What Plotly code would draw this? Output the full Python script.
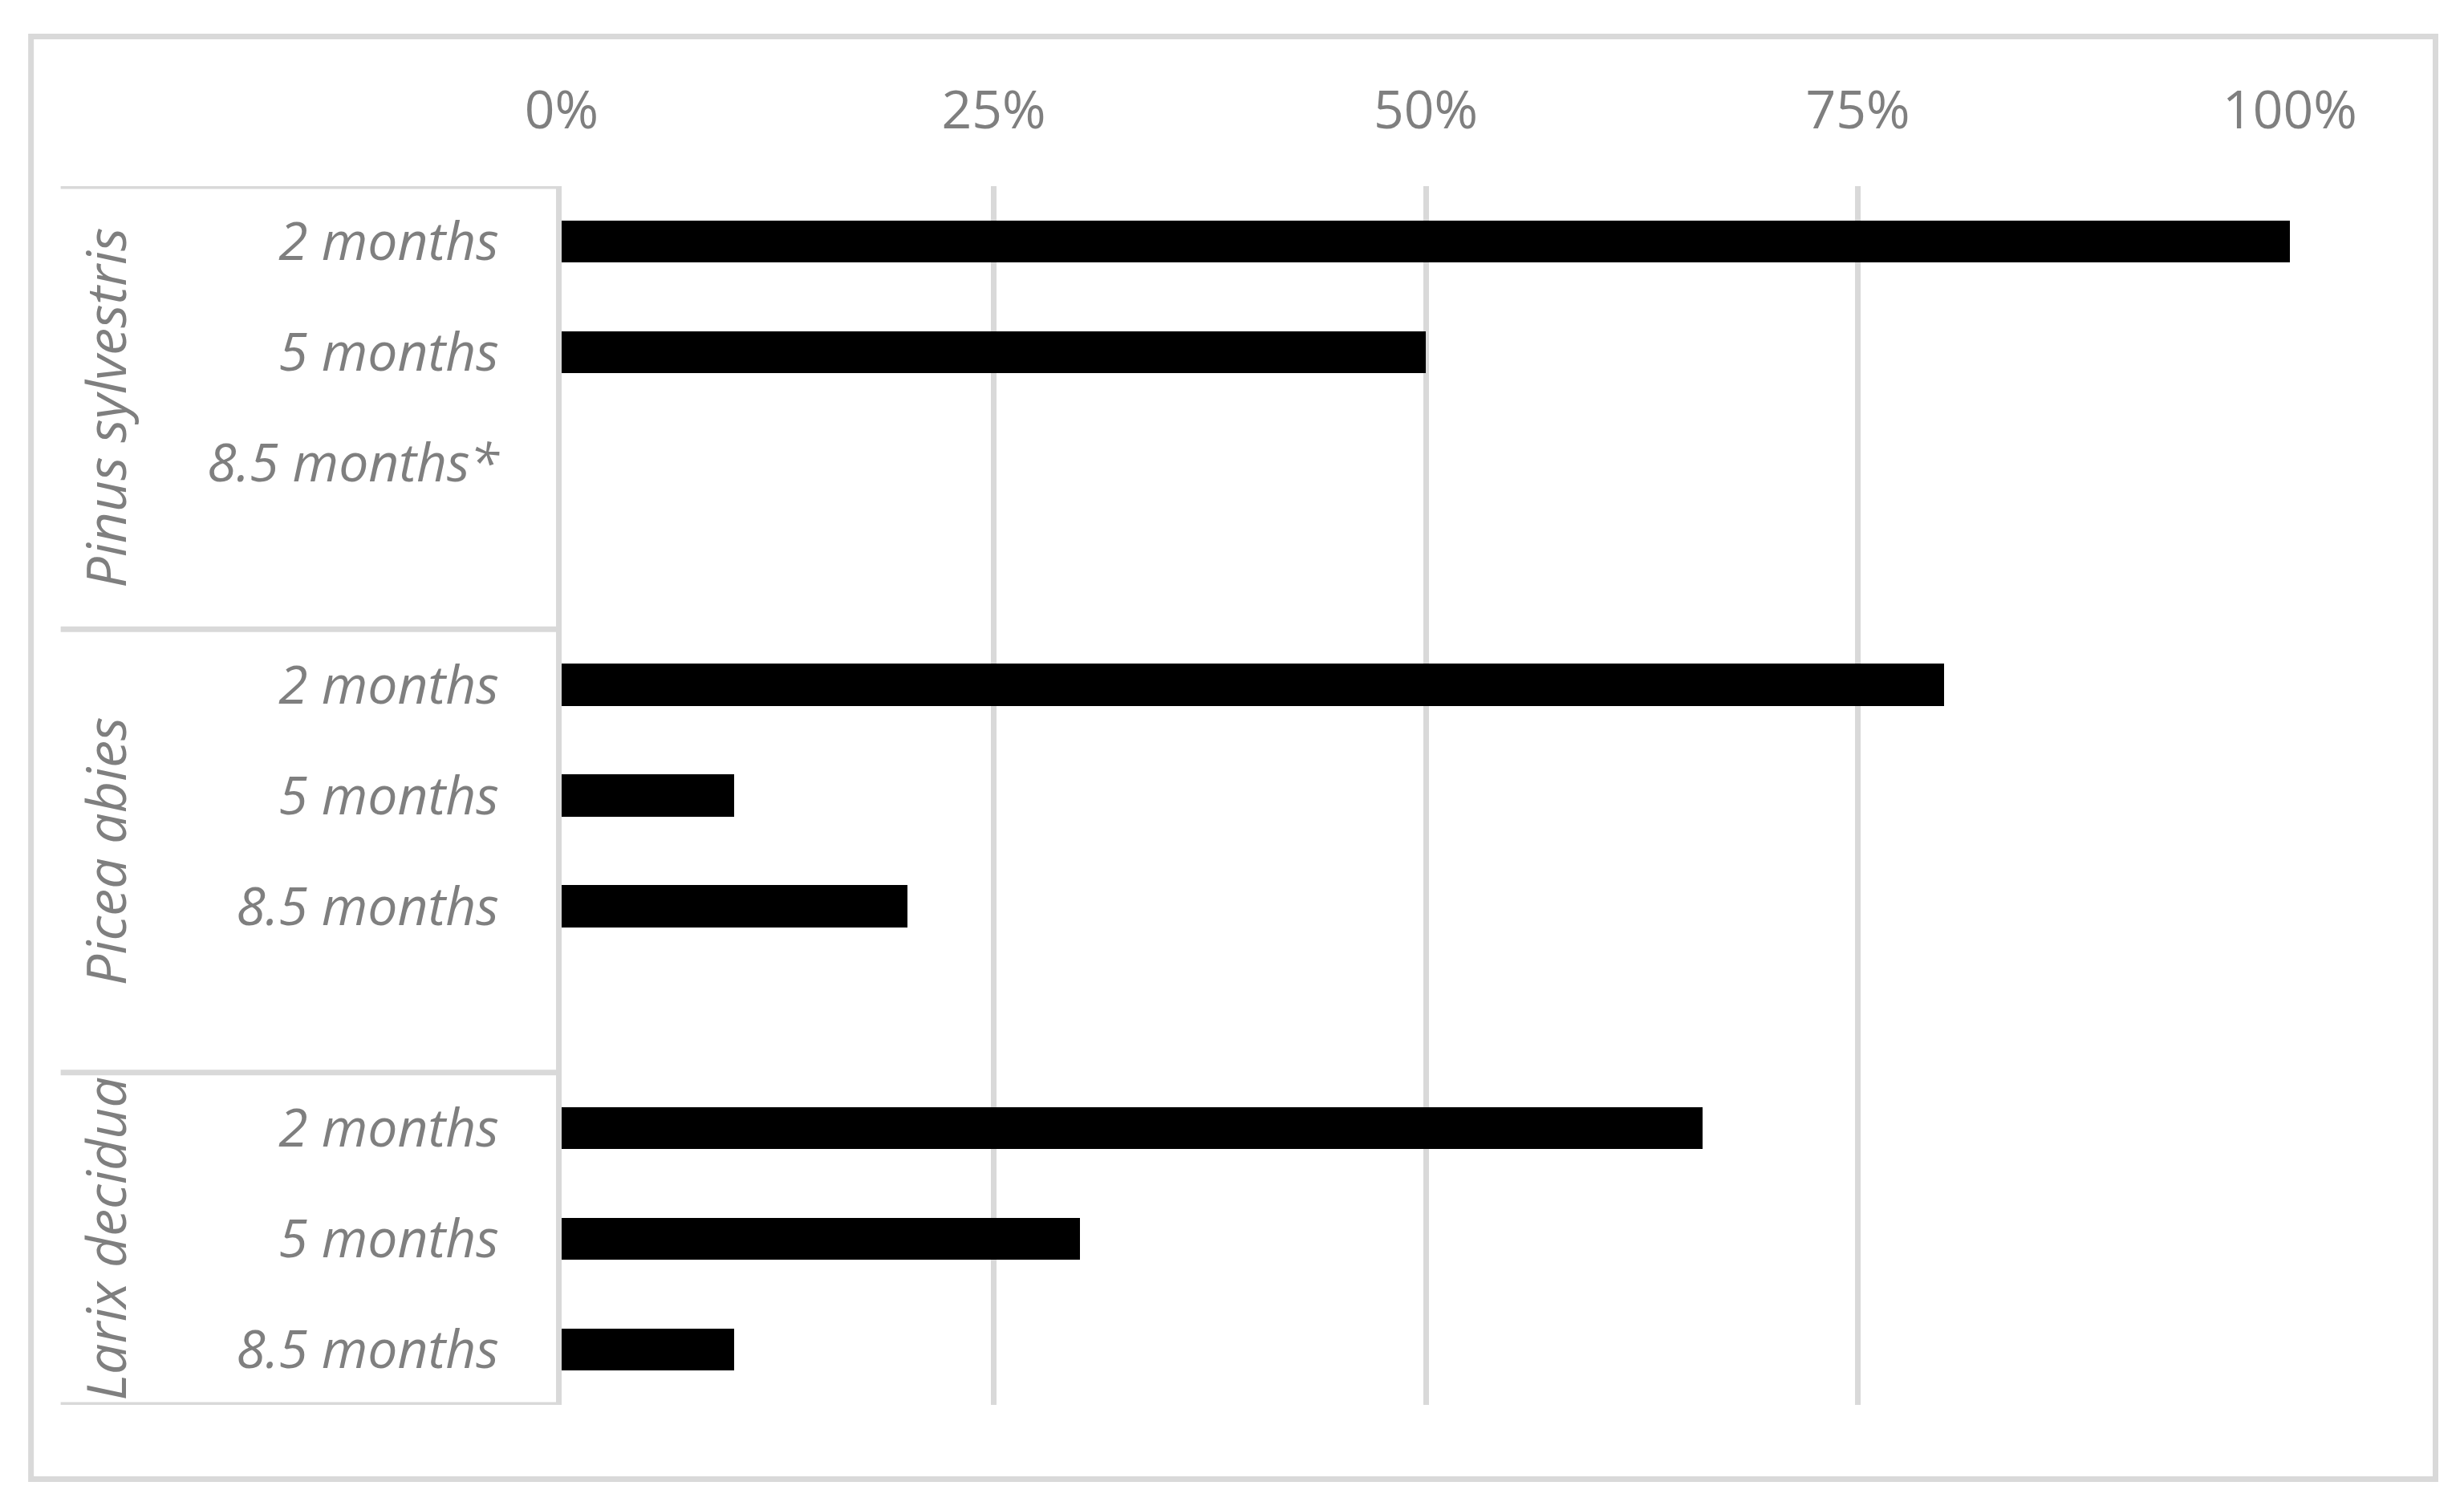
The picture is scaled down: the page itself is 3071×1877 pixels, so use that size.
import plotly.graph_objects as go

# ---- data ----
species = ["Pinus sylvestris", "Picea abies", "Larix decidua"]
period_labels = [
    ["2 months", "5 months", "8.5 months*"],
    ["2 months", "5 months", "8.5 months"],
    ["2 months", "5 months", "8.5 months"],
]
pinus_values = [100, 50, 0]
picea_values = [80, 10, 20]
larix_values = [66, 30, 10]
group_values = [pinus_values, picea_values, larix_values]
x_ticks = [0, 25, 50, 75, 100]
x_tick_labels = ["0%", "25%", "50%", "75%", "100%"]

# ---- layout geometry (page pixels; the page body has an 8px margin) ----
OFF = 8
W, H = 3071 - 2 * OFF, 1877 - 2 * OFF
L = 699.5 - OFF
R = W - (2854 - OFF)
T = 232 - OFF
B = H - (1751 - OFF)
PW = W - L - R
PH = H - T - B

def px_x(p):
    return (p - OFF - L) / PW

def px_y(p):
    return 1 - (p - OFF - T) / PH

GRID = "#d9d9d9"
TXT = "#7f7f7f"
FONT = "Open Sans"
FS = 66

# row positions: each group occupies its rows plus one blank row (except last)
rows_y, rows_txt, rows_val = [], [], []
group_bounds = []
pos = 0
for gi, (labels, vals) in enumerate(zip(period_labels, group_values)):
    start = pos
    for lab, v in zip(labels, vals):
        rows_y.append(pos)
        rows_txt.append(lab)
        rows_val.append(v)
        pos += 1
    end = pos - 1
    if gi < len(species) - 1:
        pos += 1  # blank spacer row
        group_bounds.append((start - 0.5, end + 1.5))
    else:
        group_bounds.append((start - 0.5, end + 0.5))
n_rows = pos

fig = go.Figure()
fig.add_trace(go.Bar(
    x=rows_val, y=rows_y, orientation="h", width=0.38,
    marker=dict(color="#000000", line=dict(width=0)),
    showlegend=False, hoverinfo="skip",
))

shapes = []
# outer chart border
shapes.append(dict(type="rect", xref="paper", yref="paper",
                   x0=px_x(38), x1=px_x(3035.5), y0=px_y(45.5), y1=px_y(1843.5),
                   line=dict(color=GRID, width=7), layer="below"))
# category box horizontal lines
bounds = sorted(set([b for g in group_bounds for b in g]))
for b in bounds:
    shapes.append(dict(type="line", xref="paper", yref="y",
                       x0=px_x(75), x1=0, y0=b, y1=b,
                       line=dict(color=GRID, width=7)))

annotations = []
for name, (g0, g1) in zip(species, group_bounds):
    annotations.append(dict(
        text=name, xref="paper", yref="y", x=px_x(130), y=(g0 + g1) / 2,
        textangle=-90, showarrow=False, xanchor="center", yanchor="middle",
        font=dict(family=FONT, size=68, color=TXT, style="italic"),
    ))

fig.update_layout(
    width=W, height=H,
    margin=dict(l=L, r=R, t=T, b=B, pad=0),
    paper_bgcolor="white", plot_bgcolor="white",
    shapes=shapes, annotations=annotations,
    bargap=0,
    xaxis=dict(
        range=[0, 100], side="top", tickvals=x_ticks, ticktext=x_tick_labels,
        showgrid=True, gridcolor=GRID, gridwidth=6.5, zeroline=False,
        showline=False, ticks="", ticklabelstandoff=58,
        tickfont=dict(family=FONT, size=FS, color=TXT),
        fixedrange=True,
    ),
    yaxis=dict(
        range=[n_rows - 0.5, -0.5], tickvals=rows_y, ticktext=rows_txt,
        showgrid=False, zeroline=False, showline=True, linecolor=GRID, linewidth=7,
        ticks="", ticklabelstandoff=58,
        tickfont=dict(family=FONT, size=FS, color=TXT, style="italic"),
        fixedrange=True,
    ),
)

fig.write_html("out.html")
